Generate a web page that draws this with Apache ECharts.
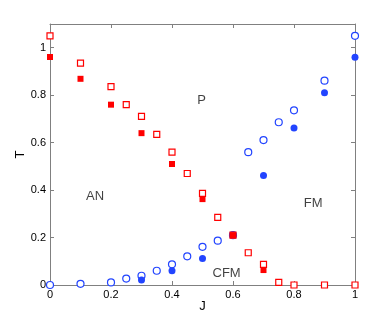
<!DOCTYPE html>
<html>
<head>
<meta charset="UTF-8">
<title>T vs J</title>
<script src="https://cdn.jsdelivr.net/npm/echarts@6/dist/echarts.min.js"></script>
</head>
<body style="margin:0;background:#fff">
<div id="main" style="width:392px;height:321px;"></div>
<script>
// data: [J, T]
var redOpen = [[0, 1.05], [0.1, 0.935], [0.2, 0.836], [0.25, 0.76], [0.3, 0.711], [0.35, 0.635],
    [0.4, 0.56], [0.45, 0.47], [0.5, 0.386], [0.55, 0.285], [0.6, 0.21], [0.65, 0.136],
    [0.7, 0.087], [0.75, 0.011], [0.8, 0], [0.9, 0], [1, 0]];
var redFilled = [[0, 0.961], [0.1, 0.869], [0.2, 0.76], [0.3, 0.64], [0.4, 0.51], [0.5, 0.362],
    [0.6, 0.21], [0.7, 0.063]];
var blueOpen = [[0, 0], [0.1, 0.005], [0.2, 0.011], [0.25, 0.027], [0.3, 0.039], [0.35, 0.06],
    [0.4, 0.087], [0.45, 0.121], [0.5, 0.161], [0.55, 0.187], [0.6, 0.21], [0.65, 0.56],
    [0.7, 0.611], [0.75, 0.686], [0.8, 0.736], [0.9, 0.861], [1, 1.05]];
var blueFilled = [[0.3, 0.021], [0.4, 0.06], [0.5, 0.112], [0.6, 0.21], [0.7, 0.462],
    [0.8, 0.662], [0.9, 0.81], [1, 0.96]];
// phase region labels
var regions = [[0.497, 0.78, 'P'], [0.148, 0.375, 'AN'], [0.863, 0.344, 'FM'], [0.579, 0.049, 'CFM']];

var RED = '#ff0000', BLUE = '#2244ff', AXIS = '#808080';
var font = 'Liberation Sans, Arial, sans-serif';

var chart = echarts.init(document.getElementById('main'));

function boxAxis(pos, show) {
    return {
        type: 'value', min: 0, max: pos === 'left' || pos === 'right' ? 1.1 : 1, interval: 0.2,
        position: pos,
        axisLine: {show: true, onZero: false, lineStyle: {color: AXIS, width: 1}},
        axisTick: {show: true, inside: true, length: 4, lineStyle: {color: AXIS}},
        axisLabel: {show: show, showMaxLabel: pos === 'bottom', color: '#000', fontSize: 11,
            fontFamily: font, margin: 4},
        splitLine: {show: false}
    };
}

var xb = boxAxis('bottom', true);
xb.name = 'J'; xb.nameLocation = 'middle'; xb.nameGap = 15; xb.nameMoveOverlap = false;
xb.nameTextStyle = {fontSize: 13, fontFamily: font, color: '#000'};
var yl = boxAxis('left', true);
yl.name = 'T'; yl.nameLocation = 'middle'; yl.nameGap = 23; yl.nameRotate = 90;
yl.nameMoveOverlap = false;
yl.nameTextStyle = {fontSize: 13, fontFamily: font, color: '#000'};

var option = {
    animation: false,
    backgroundColor: '#fff',
    grid: {left: 50, right: 37, top: 24, bottom: 36},
    xAxis: [xb, boxAxis('top', false)],
    yAxis: [yl, boxAxis('right', false)],
    series: [
        {type: 'scatter', data: blueOpen, symbol: 'circle', symbolSize: 7,
            itemStyle: {color: '#fff', borderColor: BLUE, borderWidth: 1.2, opacity: 1}},
        {type: 'scatter', data: blueFilled, symbol: 'circle', symbolSize: 7,
            itemStyle: {color: BLUE, opacity: 1}},
        {type: 'scatter', data: redOpen, symbol: 'rect', symbolSize: 6,
            itemStyle: {color: '#fff', borderColor: RED, borderWidth: 1.2, opacity: 1}},
        {type: 'scatter', data: redFilled, symbol: 'rect', symbolSize: 6,
            itemStyle: {color: RED, opacity: 1}},
        {type: 'scatter', data: regions, symbolSize: 0, silent: true,
            label: {show: true, position: 'inside', fontSize: 13, fontFamily: font, color: '#111',
                formatter: function (p) { return p.data[2]; }}}
    ]
};
chart.setOption(option);
</script>
</body>
</html>
